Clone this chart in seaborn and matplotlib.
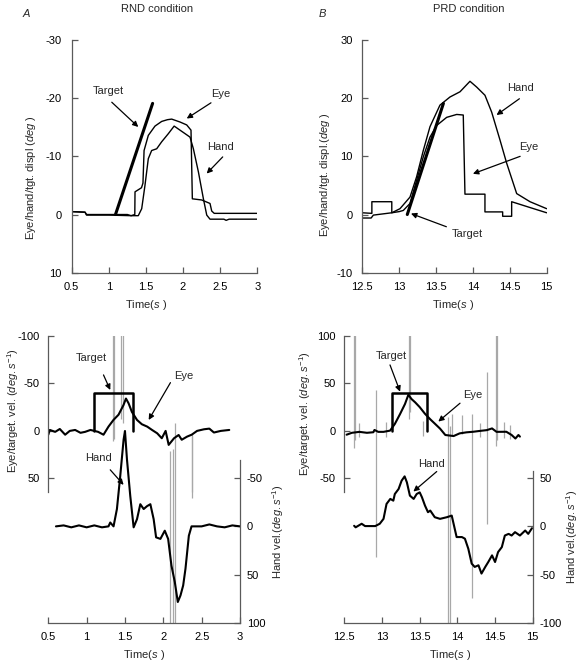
import matplotlib
matplotlib.use("Agg")
import matplotlib.pyplot as plt
import seaborn as sns

# ---------------- top row: displacement (deg) ----------------
# A, RND condition
rnd_target_t = [1.09, 1.59]
rnd_target_pos = [0.0, -19.1]
rnd_eye_t = [0.5, 0.68, 0.70, 1.25, 1.30, 1.35, 1.353, 1.44, 1.46, 1.475, 1.532, 1.622, 1.712,
             1.79, 1.847, 1.959, 2.049, 2.107, 2.125, 2.251, 2.363, 2.386, 2.42, 3.0]
rnd_eye_pos = [-0.5, -0.4, 0.0, 0.0, 0.2, 0.0, -3.9, -4.6, -5.4, -11.0, -13.6, -15.2, -16.0,
               -16.3, -16.4, -15.9, -15.4, -14.5, -2.7, -2.5, -1.9, -0.6, -0.2, -0.2]
rnd_hand_t = [0.5, 0.68, 0.70, 1.0, 1.3, 1.397, 1.443, 1.487, 1.532, 1.577, 1.645, 1.712, 1.802,
              1.88, 1.959, 2.027, 2.094, 2.139, 2.207, 2.274, 2.319, 2.363, 2.55, 2.58, 2.62, 3.0]
rnd_hand_pos = [-0.5, -0.4, 0.1, 0.1, 0.2, 0.2, -1.0, -5.0, -9.6, -11.0, -11.3, -12.5, -13.9,
                -15.2, -14.5, -13.9, -13.3, -11.3, -7.3, -2.7, 0.1, 0.8, 0.8, 1.0, 0.8, 0.8]

# B, PRD condition
prd_target_t = [13.11, 13.60]
prd_target_pos = [0.0, 19.1]
prd_eye_t = [12.5, 12.63, 12.63, 12.90, 12.90, 13.0, 13.056, 13.147, 13.237, 13.327, 13.418,
             13.508, 13.644, 13.78, 13.869, 13.892, 14.163, 14.163, 14.403, 14.403, 14.525,
             14.525, 14.774, 15.0]
prd_eye_pos = [0.3, 0.2, 2.2, 2.2, 0.3, 0.5, 0.7, 1.9, 5.9, 9.9, 13.3,
               15.3, 16.7, 17.2, 17.1, 3.5, 3.5, 0.45, 0.45, -0.3, -0.3,
               2.2, 1.2, 0.3]
prd_hand_t = [12.5, 12.62, 12.65, 12.9, 13.011, 13.147, 13.237, 13.327, 13.418, 13.553, 13.689,
              13.825, 13.96, 14.051, 14.163, 14.254, 14.367, 14.458, 14.593, 14.774, 15.0]
prd_hand_pos = [-0.6, -0.6, -0.1, 0.3, 1.0, 3.0, 6.5, 11.0, 15.1, 18.8, 20.2,
                21.1, 22.9, 21.9, 20.5, 17.6, 12.8, 8.8, 3.6, 2.2, 1.0]

# ---------------- bottom row: velocity (deg/s) ----------------
rnd_tvel_t = [1.10, 1.10, 1.60, 1.60]
rnd_tvel = [0, -40, -40, 0]
rnd_evel_t = [0.5, 0.52, 0.59, 0.65, 0.72, 0.78, 0.85, 0.92, 0.98, 1.05, 1.15, 1.22, 1.285, 1.35,
              1.416, 1.48, 1.513, 1.547, 1.59, 1.657, 1.72, 1.79, 1.853, 1.92, 1.98, 2.03,
              2.07, 2.14, 2.2, 2.24, 2.31, 2.37, 2.44, 2.53, 2.6, 2.66, 2.75, 2.86]
rnd_evel = [4, -1, 1, -2, 4, 0, -1, 2, 1, -1, 1, 4, -4.5, -11.5,
            -17, -27, -34, -29, -20, -11.5, -7, -4.5, -1, 2.5, 7.7, 0,
            14.7, 7.7, 4.3, 9.3, 6, 4, 0, -1.7, -2.4, 1.7, 0, -1]
rnd_hvel_t = [0.6, 0.7, 0.8, 0.9, 1.0, 1.1, 1.2, 1.285, 1.308, 1.351, 1.395, 1.438, 1.482, 1.50,
              1.526, 1.569, 1.613, 1.657, 1.70, 1.744, 1.788, 1.831, 1.874, 1.906, 1.962, 2.019,
              2.063, 2.106, 2.15, 2.189, 2.224, 2.259, 2.289, 2.333, 2.368, 2.5, 2.6, 2.7, 2.8,
              2.9, 3.0]
rnd_hvel = [0, -1, 1, -1, 1, -1, 1, 0, -4, 0, -18, -52, -90, -99,
            -69.5, -31.6, 1, -7.5, -23, -18, -21, -23, -7.5, 11.4, 13, 4.5,
            13, 40.7, 57.9, 78.5, 71.7, 61.3, 44, 9.7, 0, 0, -2, 0, 1,
            -1, 0]
# raw eye velocity spikes: position, lower end, upper end
rnd_spike_t = [1.338, 1.355, 1.452, 1.478, 2.093, 2.128, 2.148, 2.368, 2.38]
rnd_spike_lo = [-250, -250, -250, -250, 21, 19, -8, 3, 5]
rnd_spike_hi = [11, 8, -13, -8, 300, 300, 300, 70, 64]

prd_tvel_t = [13.13, 13.13, 13.60, 13.60]
prd_tvel = [0, 40, 40, 0]
prd_evel_t = [12.53, 12.6, 12.7, 12.8, 12.885, 12.9, 12.95, 13.02, 13.107, 13.17, 13.24, 13.305,
              13.35, 13.39, 13.44, 13.5, 13.57, 13.64, 13.70, 13.77, 13.84, 13.95, 14.03, 14.12,
              14.21, 14.3, 14.39, 14.46, 14.52, 14.65, 14.72, 14.77, 14.81, 14.83]
prd_evel = [-4, -2, -1, -2, -1.4, 1, -1, -1, 0.3, 7.3, 17.8, 28.3,
            38, 33.6, 30, 25, 18, 12.2, 7.7, 2.4, -4.3, -5.4, -2.6, -1.5,
            -0.9, 0, 0.8, 2.6, -1, -0.9, -4.3, -8, -4.3, -6]
prd_hvel_t = [12.63, 12.65, 12.73, 12.775, 12.91, 12.97, 13.02, 13.06, 13.11, 13.15, 13.17,
              13.22, 13.26, 13.30, 13.33, 13.37, 13.42, 13.46, 13.50, 13.53, 13.57, 13.61, 13.64,
              13.70, 13.77, 13.86, 13.925, 13.955, 13.99, 14.06, 14.10, 14.145, 14.19, 14.23,
              14.28, 14.32, 14.37, 14.41, 14.46, 14.50, 14.54, 14.59, 14.63, 14.68, 14.72,
              14.765, 14.83, 14.90, 14.94, 14.99]
prd_hvel = [0.6, -1, 2.7, 0.3, 0.3, 2.7, 7.8, 23.3, 28.5, 26.7, 33.6,
            38.8, 47.4, 51.9, 45.7, 31.9, 28.5, 33.6, 35.3, 30.2, 21.6, 14.7, 16.4,
            9.5, 7.8, 9.5, 11.2, 0.9, -11.1, -11.1, -12.8, -23.2, -38.7, -42.1,
            -40.4, -49, -42.1, -37, -30.1, -37, -26.7, -21.5, -9.5, -7.8, -9.5,
            -6.0, -9.5, -4.3, -7.8, -1.9]
prd_spike_t = [12.625, 12.64, 12.70, 12.92, 13.05, 13.36, 13.375, 13.55, 13.87, 13.90, 13.93,
               14.06, 14.19, 14.30, 14.39, 14.515, 14.53, 14.62, 14.70]
prd_spike_lo = [-18, -10, -6, -132, -6, 12, 20, -5, -300, -300, -5,
                -3, -176, -6, -98, -16, -10, -7, -8]
prd_spike_hi = [250, 250, 8, 43, 9, 250, 250, 10, 15, 5, 18,
                17, 18, 8, 62, 250, 250, 9, 6]

rnd_xticks = [0.5, 1, 1.5, 2, 2.5, 3]
rnd_xlabels = ["0.5", "1", "1.5", "2", "2.5", "3"]
prd_xticks = [12.5, 13, 13.5, 14, 14.5, 15]
prd_xlabels = ["12.5", "13", "13.5", "14", "14.5", "15"]

sns.set_theme(style="ticks")
plt.rcParams["font.family"] = ["Liberation Sans", "DejaVu Sans"]
plt.rcParams["axes.unicode_minus"] = False
plt.rcParams["mathtext.fontset"] = "custom"
plt.rcParams["mathtext.rm"] = "Liberation Sans"
plt.rcParams["mathtext.it"] = "Liberation Sans:italic"
FS = 8
SPINE = "#5a5a5a"
GRAY = "#a8a8a8"


def trace(ax, t, v, color="black", lw=1.0):
    sns.lineplot(x=t, y=v, ax=ax, color=color, linewidth=lw, sort=False,
                 estimator=None, legend=False)


def style_axis(ax, sides):
    for side, sp in ax.spines.items():
        sp.set_visible(side in sides)
        sp.set_color(SPINE)
        sp.set_linewidth(0.9)
    ax.tick_params(direction="in", length=4, width=0.9, color=SPINE,
                   labelsize=FS, labelcolor="black")
    ax.set_facecolor("none")


def arrow(ax, head, tail):
    ax.annotate("", xy=head, xytext=tail,
                arrowprops=dict(arrowstyle="-|>", color="black", lw=0.9,
                                mutation_scale=8, shrinkA=0, shrinkB=0))


fig = plt.figure(figsize=(5.79, 6.64), dpi=100)

# ---- top A ----
ax = fig.add_axes([0.1238, 0.5893, 0.3206, 0.3505])
trace(ax, rnd_eye_t, rnd_eye_pos, lw=1.0)
trace(ax, rnd_hand_t, rnd_hand_pos, lw=1.0)
trace(ax, rnd_target_t, rnd_target_pos, lw=2.2)
ax.set_xlim(0.5, 3)
ax.set_ylim(10, -30)
ax.set_xticks(rnd_xticks, rnd_xlabels)
ax.set_yticks([-30, -20, -10, 0, 10], ["-30", "-20", "-10", "0", "10"])
style_axis(ax, ["left", "bottom"])
ax.tick_params(axis="x", pad=7)
ax.tick_params(axis="y", pad=7)
ax.set_xlabel(r"Time($\mathit{s}$ )", fontsize=FS, va="center")
ax.xaxis.set_label_coords(0.40, -0.14)
ax.set_ylabel(r"Eye/hand/tgt. displ ($\mathit{deg}$ )", fontsize=FS, va="center")
ax.yaxis.set_label_coords(-0.22, 0.41)
ax.text(0.99, -21.3, "Target", fontsize=FS, ha="center", va="center")
arrow(ax, (1.397, -15.05), (1.04, -19.3))
ax.text(2.507, -20.7, "Eye", fontsize=FS, ha="center", va="center")
arrow(ax, (2.049, -16.5), (2.376, -19.2))
ax.text(2.511, -11.6, "Hand", fontsize=FS, ha="center", va="center")
arrow(ax, (2.318, -7.04), (2.534, -9.9))

# ---- top B ----
ax = fig.add_axes([0.6257, 0.5893, 0.3185, 0.3505])
trace(ax, prd_eye_t, prd_eye_pos, lw=1.0)
trace(ax, prd_hand_t, prd_hand_pos, lw=1.0)
trace(ax, prd_target_t, prd_target_pos, lw=2.2)
ax.set_xlim(12.5, 15)
ax.set_ylim(-10, 30)
ax.set_xticks(prd_xticks, prd_xlabels)
ax.set_yticks([-10, 0, 10, 20, 30], ["-10", "0", "10", "20", "30"])
style_axis(ax, ["left", "bottom"])
ax.tick_params(axis="x", pad=7)
ax.tick_params(axis="y", pad=7)
ax.set_xlabel(r"Time($\mathit{s}$ )", fontsize=FS, va="center")
ax.xaxis.set_label_coords(0.49, -0.14)
ax.set_ylabel(r"Eye/hand/tgt. displ.($\mathit{deg}$ )", fontsize=FS, va="center")
ax.yaxis.set_label_coords(-0.20, 0.42)
ax.text(14.65, 21.8, "Hand", fontsize=FS, ha="center", va="center")
arrow(ax, (14.32, 17.1), (14.63, 19.9))
ax.text(14.76, 11.6, "Eye", fontsize=FS, ha="center", va="center")
arrow(ax, (14.0, 7.0), (14.64, 10.0))
ax.text(13.92, -3.4, "Target", fontsize=FS, ha="center", va="center")
arrow(ax, (13.16, 0.17), (13.64, -2.1))

# ---- bottom A ----
ax = fig.add_axes([0.0834, 0.0622, 0.3311, 0.4322])
ax.vlines(rnd_spike_t, rnd_spike_lo, rnd_spike_hi, color=GRAY, lw=0.9)
trace(ax, rnd_evel_t, rnd_evel, lw=1.5)
trace(ax, rnd_tvel_t, rnd_tvel, lw=1.8)
ax.set_xlim(0.5, 3)
ax.set_ylim(201.5, -100)
ax.set_xticks(rnd_xticks, rnd_xlabels)
ax.set_yticks([-100, -50, 0, 50], ["-100", "-50", "0", "50"])
style_axis(ax, ["left", "bottom"])
ax.spines["left"].set_bounds(-100, 63.7)
ax.tick_params(axis="x", pad=7)
ax.tick_params(axis="y", pad=6)
ax.set_xlabel(r"Time($\mathit{s}$ )", fontsize=FS, va="center")
ax.xaxis.set_label_coords(0.50, -0.112)
ax.set_ylabel(r"Eye/target. vel. ($\mathit{deg.s}^{\mathit{-1}}$)", fontsize=FS, va="center")
ax.yaxis.set_label_coords(-0.183, 0.738)
ax.text(1.055, -76.9, "Target", fontsize=FS, ha="center", va="center")
arrow(ax, (1.308, -43), (1.22, -58.8))
ax.text(2.26, -57.7, "Eye", fontsize=FS, ha="center", va="center")
arrow(ax, (1.809, -11.5), (2.093, -50.7))
ax.text(1.154, 28.6, "Hand", fontsize=FS, ha="center", va="center")
arrow(ax, (1.482, 56.7), (1.308, 40.9))
ax2 = ax.twinx()
trace(ax2, rnd_hvel_t, rnd_hvel, lw=1.5)
ax2.set_ylim(100, -197.9)
ax2.set_yticks([-50, 0, 50, 100], ["-50", "0", "50", "100"])
style_axis(ax2, ["right"])
ax2.spines["right"].set_bounds(-68.5, 100)
ax2.tick_params(axis="y", pad=5)
ax2.set_ylabel(r"Hand vel.($\mathit{deg.s}^{\mathit{-1}}$)", fontsize=FS, va="center", rotation=90)
ax2.yaxis.set_label_coords(1.20, 0.317)

# ---- bottom B ----
ax = fig.add_axes([0.5947, 0.0622, 0.3254, 0.4322])
ax.vlines(prd_spike_t, prd_spike_lo, prd_spike_hi, color=GRAY, lw=0.9)
trace(ax, prd_evel_t, prd_evel, lw=1.5)
trace(ax, prd_tvel_t, prd_tvel, lw=1.8)
ax.set_xlim(12.5, 15)
ax.set_ylim(-201.5, 100)
ax.set_xticks(prd_xticks, prd_xlabels)
ax.set_yticks([-50, 0, 50, 100], ["-50", "0", "50", "100"])
style_axis(ax, ["left", "bottom"])
ax.spines["left"].set_bounds(-63.7, 100)
ax.tick_params(axis="x", pad=7)
ax.tick_params(axis="y", pad=6)
ax.set_xlabel(r"Time($\mathit{s}$ )", fontsize=FS, va="center")
ax.xaxis.set_label_coords(0.56, -0.112)
ax.set_ylabel(r"Eye/target. vel. ($\mathit{deg.s}^{\mathit{-1}}$)", fontsize=FS, va="center")
ax.yaxis.set_label_coords(-0.209, 0.73)
ax.text(13.13, 78.7, "Target", fontsize=FS, ha="center", va="center")
arrow(ax, (13.24, 41.2), (13.106, 69.3))
ax.text(14.20, 37.8, "Eye", fontsize=FS, ha="center", va="center")
arrow(ax, (13.747, 9.8), (14.035, 29.1))
ax.text(13.66, -34.6, "Hand", fontsize=FS, ha="center", va="center")
arrow(ax, (13.416, -63.7), (13.726, -42.7))
ax2 = ax.twinx()
trace(ax2, prd_hvel_t, prd_hvel, lw=1.5)
ax2.set_ylim(-100, 197.9)
ax2.set_yticks([-100, -50, 0, 50], ["-100", "-50", "0", "50"])
style_axis(ax2, ["right"])
ax2.spines["right"].set_bounds(-100, 57)
ax2.tick_params(axis="y", pad=5)
ax2.set_ylabel(r"Hand vel.($\mathit{deg.s}^{\mathit{-1}}$)", fontsize=FS, va="center", rotation=90)
ax2.yaxis.set_label_coords(1.207, 0.30)

# panel letters and titles
fig.text(26 / 579, 1 - 14 / 664, "A", fontsize=FS, style="italic", ha="center", va="center")
fig.text(157 / 579, 1 - 9 / 664, "RND condition", fontsize=FS, ha="center", va="center")
fig.text(322 / 579, 1 - 14 / 664, "B", fontsize=FS, style="italic", ha="center", va="center")
fig.text(469 / 579, 1 - 9 / 664, "PRD condition", fontsize=FS, ha="center", va="center")

fig.savefig("out.png", dpi=100)
